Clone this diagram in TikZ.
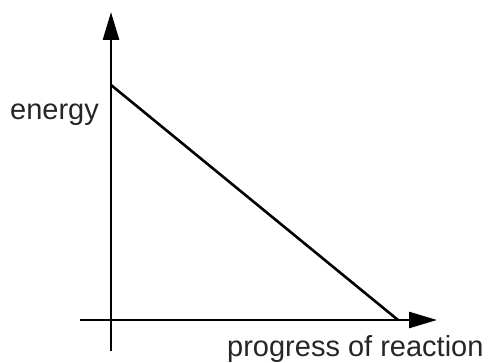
\documentclass[tikz,border=0pt]{standalone}
\usepackage{fontspec}
\setmainfont{Liberation Sans}
\usetikzlibrary{arrows.meta}
\begin{document}
\begin{tikzpicture}[x=1pt,y=-1pt,
  axis/.style={line width=2.6pt,-{Triangle[length=28pt,width=16pt]}},
  curve/.style={line width=2.6pt},
  lbl/.style={inner sep=0pt,anchor=base west,text=black!85,font=\fontsize{29}{34}\selectfont}]
\useasboundingbox (0,0) rectangle (489,363);
\coordinate (ybot) at (111,351);
\coordinate (ytop) at (111,12);
\coordinate (xleft) at (80,320);
\coordinate (xright) at (437,320);
\coordinate (start) at (111,85);
\coordinate (end) at (398,320);
\draw[axis] (ybot) -- (ytop);
\draw[axis] (xleft) -- (xright);
\draw[curve] (start) -- (end);
\node[lbl] (elabel) at (10,120) {energy};
\node[lbl] (plabel) at (227,356) {progress of reaction};
\end{tikzpicture}
\end{document}
